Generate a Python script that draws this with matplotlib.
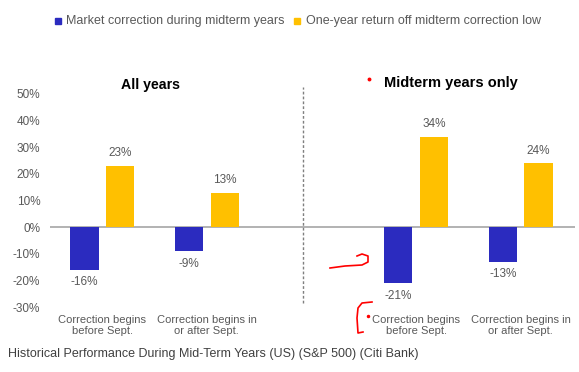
import numpy as np
import matplotlib.pyplot as plt

plt.rcParams['font.family'] = ['Liberation Sans', 'DejaVu Sans']

# データ
categories = ["Correction begins\nbefore Sept.", "Correction begins in\nor after Sept.",
              "Correction begins\nbefore Sept.", "Correction begins in\nor after Sept."]
positions = [0, 1, 3, 4]
correction = [-16, -9, -21, -13]
one_year = [23, 13, 34, 24]
yticks = [-30, -20, -10, 0, 10, 20, 30, 40, 50]

BLUE = '#2B2BBF'
YELLOW = '#FFC000'
GRAY = '#595959'

W, H = 579, 372
fig = plt.figure(figsize=(W / 100, H / 100), dpi=100)
ax = fig.add_axes([50 / W, (H - 307) / H, 525 / W, 213 / H])

pos = np.array(positions, dtype=float)
bw = 0.27
ax.bar(pos - 0.17, correction, width=bw, color=BLUE, zorder=3)
ax.bar(pos + 0.17, one_year, width=bw, color=YELLOW, zorder=3)

for x, v in zip(pos - 0.17, correction):
    ax.text(x, v - 2.5, f"{v}%", ha='center', va='top', fontsize=8.5, color=GRAY)
for x, v in zip(pos + 0.17, one_year):
    ax.text(x, v + 2.5, f"{v}%", ha='center', va='bottom', fontsize=8.5, color=GRAY)

ax.set_xlim(-0.5, 4.52)
ax.set_ylim(-30, 50)
ax.axhline(0, color='#A6A6A6', linewidth=1.2, zorder=2)
for s in ax.spines.values():
    s.set_visible(False)
ax.set_yticks(yticks)
ax.set_yticklabels([f"{t}%" for t in yticks], fontsize=8.5, color=GRAY)
ax.tick_params(axis='y', length=0, pad=7)
ax.set_xticks(positions)
ax.set_xticklabels(categories, fontsize=8, color=GRAY, linespacing=1.05)
ax.tick_params(axis='x', length=0, pad=6)

# 区切り線
ax.plot([1.92, 1.92], [-28.5, 52.6], color='#7F7F7F', linestyle=(0, (2, 1.5)),
        linewidth=1, clip_on=False)

# 見出し
fig.text(150.5 / W, 1 - 85 / H, "All years", ha='center', va='center',
         fontsize=10.2, fontweight='bold', color='black')
fig.text(451 / W, 1 - 83 / H, "Midterm years only", ha='center', va='center',
         fontsize=10.5, fontweight='bold', color='black')

# 凡例
fig.patches.append(plt.Rectangle((55 / W, 1 - 24 / H), 6 / W, 6 / H,
                                 transform=fig.transFigure, color=BLUE))
fig.text(66 / W, 1 - 21 / H, "Market correction during midterm years", va='center',
         fontsize=9, color=GRAY)
fig.patches.append(plt.Rectangle((294 / W, 1 - 24 / H), 6 / W, 6 / H,
                                 transform=fig.transFigure, color=YELLOW))
fig.text(306 / W, 1 - 21 / H, "One-year return off midterm correction low", va='center',
         fontsize=9, color=GRAY)

# 赤い書き込み
def px(xs, ys):
    return [x / W for x in xs], [1 - y / H for y in ys]

fig.add_artist(plt.Line2D(*px([369], [79]), marker='o', markersize=1.8, color='red', linestyle='none'))
fig.add_artist(plt.Line2D(*px([330, 345, 362, 368, 368, 362, 357], [268, 266, 265, 262, 256, 254, 256]),
                          color='red', linewidth=1.2))
fig.add_artist(plt.Line2D(*px([372, 362, 358, 357, 358, 363], [302, 303, 308, 318, 333, 332]),
                          color='red', linewidth=1.2))
fig.add_artist(plt.Line2D(*px([368], [316]), marker='o', markersize=1.5, color='red', linestyle='none'))

# キャプション
fig.text(8 / W, 1 - 354 / H, "Historical Performance During Mid-Term Years (US) (S&P 500) (Citi Bank)",
         va='center', fontsize=9, color='#404040')

fig.savefig('out.png', dpi=100)
